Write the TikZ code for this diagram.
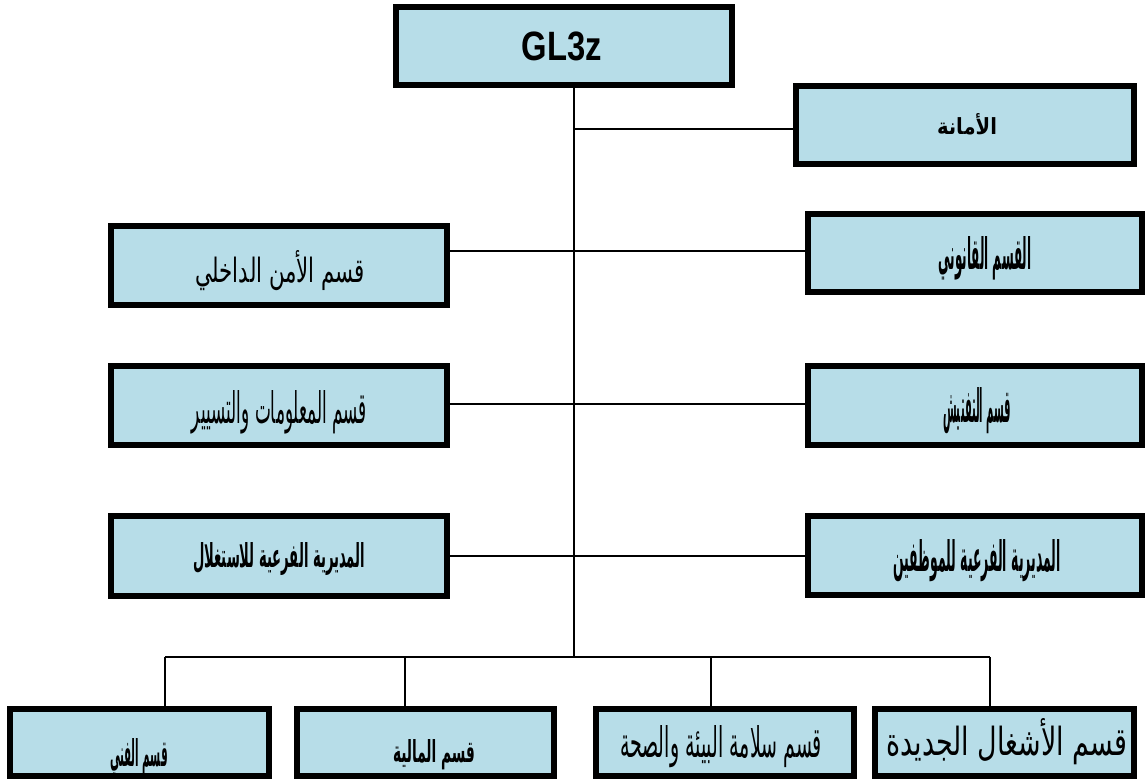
\documentclass[tikz,border=0pt]{standalone}
\usepackage{fontspec}
\setmainfont{Liberation Sans}
\newfontfamily\arabicfont[Script=Arabic]{DejaVu Sans}
\TeXXeTstate=1
\definecolor{boxfill}{RGB}{183,221,232}
\tikzset{
  orgbox/.style={draw=black, line width=6pt, fill=boxfill, inner sep=0pt},
  boxtext/.style={inner sep=0pt, anchor=center},
  link/.style={draw=black, line width=1.3pt},
}
% #1 width, #2 height, #3 text (already wrapped in \beginR ... \endR)
\newcommand{\artxt}[3]{\resizebox{#1pt}{#2pt}{\arabicfont #3}}
\newcommand{\artxtb}[3]{\resizebox{#1pt}{#2pt}{\arabicfont\bfseries #3}}
\begin{document}
\begin{tikzpicture}[x=1pt,y=-1pt]
\useasboundingbox (0,0) rectangle (1145,782);
\fill[white] (0,0) rectangle (1145,782);

% coordinates of the connector network
\coordinate (bus) at (574,657);
\coordinate (r1) at (574,129);
\coordinate (r2) at (574,251);
\coordinate (r3) at (574,404);
\coordinate (r4) at (574,556);
\coordinate (d1) at (165,657);
\coordinate (d2) at (405,657);
\coordinate (d3) at (711,657);
\coordinate (d4) at (990,657);

% boxes
\node[orgbox, minimum width=336pt, minimum height=78pt] (top) at (564,46) {};
\node[orgbox, minimum width=338pt, minimum height=78pt] (amana) at (965,125) {};
\node[orgbox, minimum width=334pt, minimum height=78pt] (qanuni) at (975,253) {};
\node[orgbox, minimum width=334pt, minimum height=79pt] (taftish) at (975,405.5) {};
\node[orgbox, minimum width=334pt, minimum height=79pt] (muwaz) at (975,555.5) {};
\node[orgbox, minimum width=336pt, minimum height=79pt] (left1) at (279,265.5) {};
\node[orgbox, minimum width=336pt, minimum height=79pt] (left2) at (279,405.5) {};
\node[orgbox, minimum width=336pt, minimum height=80pt] (left3) at (279,556) {};
\node[orgbox, minimum width=259pt, minimum height=67pt] (b1) at (139.5,742.5) {};
\node[orgbox, minimum width=257pt, minimum height=67pt] (b2) at (425.5,742.5) {};
\node[orgbox, minimum width=258pt, minimum height=67pt] (b3) at (725,742.5) {};
\node[orgbox, minimum width=259pt, minimum height=67pt] (b4) at (1004.5,742.5) {};

% texts
\node[boxtext] (toptxt) at (562,46)
  {\scalebox{0.8}[1]{\fontsize{41}{44}\selectfont\bfseries GL3z}};
\node[boxtext] (amanatxt) at (967,124) {\artxtb{60}{21}{\beginR الأمانة\endR}};
\node[boxtext] (qanunitxt) at (985,258) {\artxtb{93}{33}{\beginR القسم القانوني\endR}};
\node[boxtext] (taftishtxt) at (977,411) {\artxtb{68}{35}{\beginR قسم التفتيش\endR}};
\node[boxtext] (muwaztxt) at (977,561) {\artxtb{167}{32}{\beginR المديرية الفرعية للموظفين\endR}};
\node[boxtext] (left1txt) at (280,271) {\artxt{170}{32}{\beginR قسم الأمن الداخلي\endR}};
\node[boxtext] (left2txt) at (279.5,412) {\artxt{175}{33}{\beginR قسم المعلومات والتسيير\endR}};
\node[boxtext] (left3txt) at (279,559) {\artxtb{172}{25}{\beginR المديرية الفرعية للاستغلال\endR}};
\node[boxtext] (b1txt) at (139,757) {\artxtb{58}{28}{\beginR قسم الفني\endR}};
\node[boxtext] (b2txt) at (434,755) {\artxtb{82}{23}{\beginR قسم المالية\endR}};
\node[boxtext] (b3txt) at (721,747) {\artxt{202}{32}{\beginR قسم سلامة البيئة والصحة\endR}};
\node[boxtext] (b4txt) at (1007,742) {\artxt{241}{37}{\beginR قسم الأشغال الجديدة\endR}};

% connectors
\draw[link] (top.south -| bus) -- (bus);
\draw[link] (r1) -- (amana.west |- r1);
\draw[link] (left1.east |- r2) -- (qanuni.west |- r2);
\draw[link] (left2.east |- r3) -- (taftish.west |- r3);
\draw[link] (left3.east |- r4) -- (muwaz.west |- r4);
\draw[link] (d1) -- (d4);
\draw[link] (d1) -- (d1 |- b1.north);
\draw[link] (d2) -- (d2 |- b2.north);
\draw[link] (d3) -- (d3 |- b3.north);
\draw[link] (d4) -- (d4 |- b4.north);
\end{tikzpicture}
\end{document}
